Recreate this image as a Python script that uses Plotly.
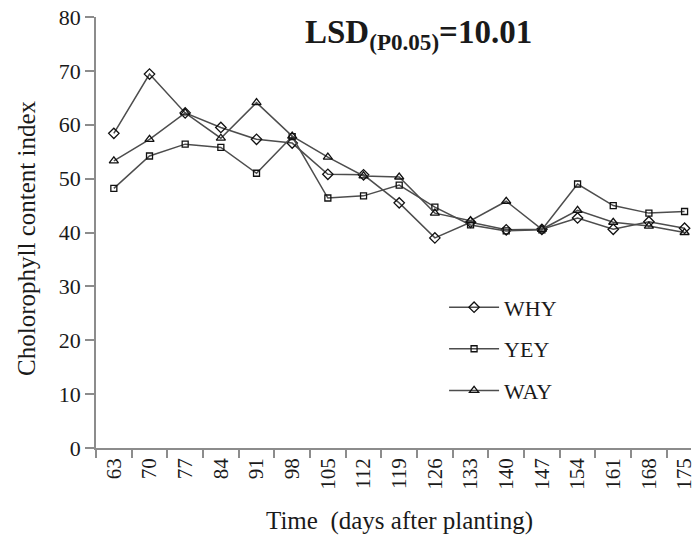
import plotly.graph_objects as go

days = ["63", "70", "77", "84", "91", "98", "105", "112", "119", "126",
        "133", "140", "147", "154", "161", "168", "175"]
why = [58.4, 69.4, 62.2, 59.5, 57.3, 56.6, 50.8, 50.7, 45.5, 39.0,
       41.9, 40.5, 40.6, 42.7, 40.6, 42.0, 40.8]
yey = [48.2, 54.2, 56.4, 55.8, 51.0, 57.8, 46.4, 46.8, 48.8, 44.7,
       41.4, 40.3, 40.5, 49.0, 45.0, 43.6, 43.9]
way = [53.3, 57.3, 62.2, 57.5, 64.1, 57.9, 54.0, 50.5, 50.3, 43.6,
       42.2, 45.8, 40.6, 44.1, 41.9, 41.2, 40.0]

series = [("WHY", why, "diamond-open", 8),
          ("YEY", yey, "square-open", 6),
          ("WAY", way, "triangle-up-open", 8)]

FONT = "Liberation Serif, DejaVu Serif, serif"

fig = go.Figure()
for i, (name, vals, sym, sz) in enumerate(series):
    fig.add_trace(go.Scatter(
        x=days, y=vals, name=name, mode="lines+markers",
        legendgroup=name,
        line=dict(color="#4d4d4d", width=1.5),
        marker=dict(symbol=sym, size=sz, color="#111111",
                    line=dict(color="#111111", width=1.3)),
    ))

fig.update_layout(
    width=696, height=541,
    margin=dict(l=96, r=0, t=17, b=93),
    paper_bgcolor="white", plot_bgcolor="white",
    font=dict(family=FONT, size=22, color="#1a1a1a"),
    showlegend=True,
    legend=dict(x=0.585, y=0.375, xanchor="left", yanchor="top",
                traceorder="grouped", tracegroupgap=10,
                font=dict(family=FONT, size=22, color="#1a1a1a"),
                bgcolor="rgba(0,0,0,0)", itemwidth=50),
    xaxis=dict(type="category", range=[-0.5, 16.18],
               tickson="boundaries", ticks="outside", ticklen=8,
               tickcolor="#8c8c8c", tickwidth=1.5,
               showline=True, linecolor="#8c8c8c", linewidth=1.5,
               showgrid=False, tickangle=-90,
               tickfont=dict(family=FONT, size=21, color="#1a1a1a")),
    yaxis=dict(range=[0, 80], dtick=10, ticks="outside", ticklen=9,
               tickcolor="#8c8c8c", tickwidth=1.5,
               showline=True, linecolor="#8c8c8c", linewidth=1.5,
               showgrid=False, zeroline=False,
               tickfont=dict(family=FONT, size=22, color="#1a1a1a")),
    annotations=[
        dict(text="Cholorophyll content index", textangle=-90,
             xref="paper", yref="paper", x=-0.117, y=0.486,
             xanchor="center", yanchor="middle", showarrow=False,
             font=dict(family=FONT, size=25, color="#1a1a1a")),
        dict(text="Time  (days after planting)",
             xref="paper", yref="paper", x=0.51, y=-0.17,
             xanchor="center", yanchor="middle", showarrow=False,
             font=dict(family=FONT, size=25, color="#1a1a1a")),
        dict(text="<b>LSD<sub>(P0.05)</sub>=10.01</b>",
             xref="paper", yref="paper", x=0.542, y=0.96,
             xanchor="center", yanchor="middle", showarrow=False,
             font=dict(family=FONT, size=33, color="#1a1a1a")),
    ],
)

fig.write_html("out.html")
